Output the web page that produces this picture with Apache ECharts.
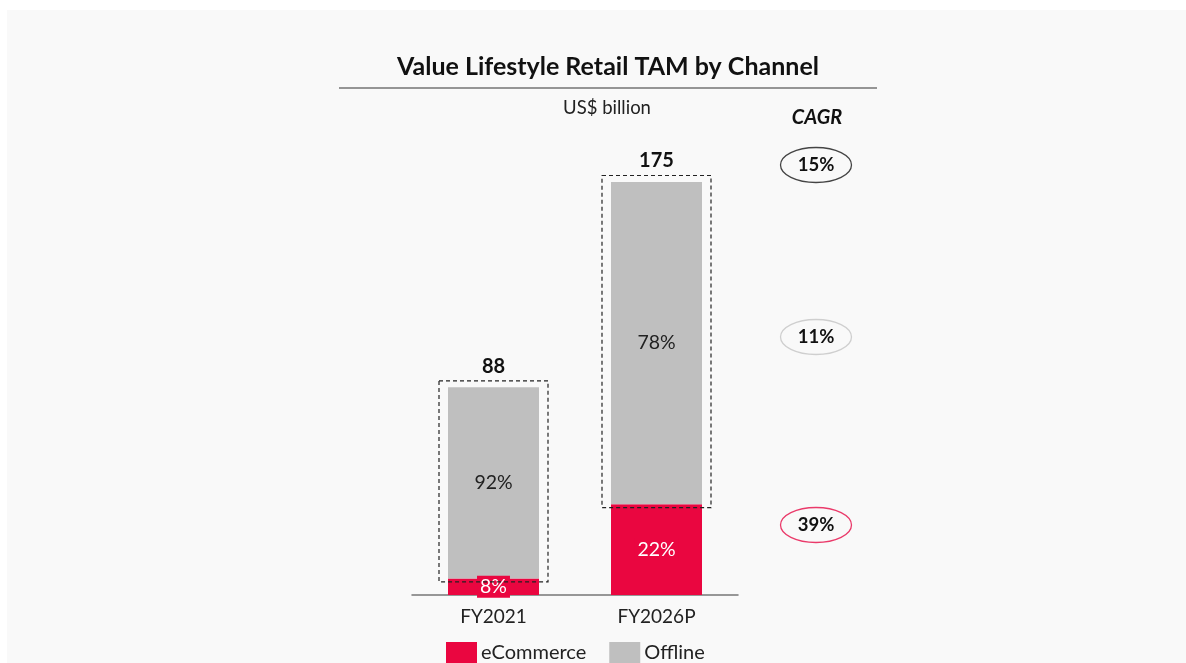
<!DOCTYPE html>
<html>
<head>
<meta charset="utf-8">
<title>Value Lifestyle Retail TAM by Channel</title>
<script src="https://cdn.jsdelivr.net/npm/echarts@6/dist/echarts.min.js"></script>
<style>
  html, body { margin: 0; padding: 0; background: #fff; }
  #chart { width: 1186px; height: 663px; }
</style>
</head>
<body>
<div id="chart"></div>
<script>
// data (US$ billion)
var categories = ['FY2021', 'FY2026P'];
var totals = [88, 175];
var ecommerce = [7.04, 38.5];
var offline = [80.96, 136.5];
var ecommerceShare = ['8%', '22%'];
var offlineShare = ['92%', '78%'];
var cagrLabels = ['15%', '11%', '39%'];

var RED = '#EA0640';
var GREY = '#BFBFBF';
var FONT = 'Lato, "Open Sans", sans-serif';

var chart = echarts.init(document.getElementById('chart'));

// one row per category: index, total, ecommerce (bottom of the dashed box)
var boxData = categories.map(function (c, i) {
  return [i, totals[i], ecommerce[i]];
});

function renderBox(params, api) {
  var top = api.coord([api.value(0), api.value(1)]);
  var bottom = api.coord([api.value(0), api.value(2)]);
  return {
    type: 'group',
    children: [
      {
        type: 'rect',
        shape: { x: top[0] - 54.5, y: top[1] - 6.5, width: 109, height: bottom[1] - top[1] + 10 },
        style: { fill: 'none', stroke: '#222', lineWidth: 1.2, lineDash: [4, 3] }
      },
      {
        type: 'text',
        x: top[0],
        y: top[1] - 21,
        style: {
          text: String(api.value(1)),
          fill: '#111',
          font: 'bold 20px ' + FONT,
          textAlign: 'center',
          textVerticalAlign: 'middle'
        }
      }
    ]
  };
}

// CAGR ellipses on the right
var cagrPos = [
  { y: 165, stroke: '#444' },
  { y: 337, stroke: '#cfcfcf' },
  { y: 525, stroke: '#EA3A6A' }
];
var graphics = [
  { type: 'rect', left: 7, top: 10, shape: { width: 1179, height: 653 }, style: { fill: '#f9f9f9' }, z: -10 },
  {
    type: 'text', x: 608, y: 67,
    style: { text: 'Value Lifestyle Retail TAM by Channel', font: 'bold 25px ' + FONT, fill: '#111', textAlign: 'center', textVerticalAlign: 'middle' }
  },
  { type: 'line', shape: { x1: 339, y1: 88, x2: 877, y2: 88 }, style: { stroke: '#333', lineWidth: 1.2 } },
  {
    type: 'text', x: 607, y: 108,
    style: { text: 'US$ billion', font: '18.5px ' + FONT, fill: '#222', textAlign: 'center', textVerticalAlign: 'middle' }
  },
  {
    type: 'text', x: 817, y: 118,
    style: { text: 'CAGR', font: 'italic bold 20px ' + FONT, fill: '#111', textAlign: 'center', textVerticalAlign: 'middle' }
  }
];
cagrLabels.forEach(function (t, i) {
  graphics.push({
    type: 'ellipse',
    shape: { cx: 816, cy: cagrPos[i].y, rx: 35.5, ry: 17.5 },
    style: { fill: 'none', stroke: cagrPos[i].stroke, lineWidth: 1.3 }
  });
  graphics.push({
    type: 'text', x: 816, y: cagrPos[i].y,
    style: { text: t, font: 'bold 18.5px ' + FONT, fill: '#111', textAlign: 'center', textVerticalAlign: 'middle' }
  });
});

var option = {
  animation: false,
  backgroundColor: '#fff',
  textStyle: { fontFamily: FONT },
  graphic: graphics,
  grid: { left: 412, width: 326, top: 123, bottom: 68 },
  legend: {
    data: ['eCommerce', 'Offline'],
    left: 446,
    top: 642,
    padding: 0,
    icon: 'rect',
    itemWidth: 31,
    itemHeight: 21,
    itemGap: 23,
    textStyle: { fontSize: 20, color: '#222', fontFamily: FONT, padding: [0, 0, 0, -1] }
  },
  xAxis: {
    type: 'category',
    data: categories,
    axisLine: { lineStyle: { color: '#777', width: 1.5 } },
    axisTick: { show: false },
    axisLabel: { fontSize: 19, color: '#222', margin: 12, fontFamily: FONT }
  },
  yAxis: {
    type: 'value',
    min: 0,
    max: 200,
    show: false,
    splitLine: { show: false }
  },
  series: [
    {
      name: 'eCommerce',
      type: 'bar',
      stack: 'tam',
      barWidth: 91,
      data: ecommerce,
      itemStyle: { color: RED },
      label: {
        show: true,
        position: 'inside',
        formatter: function (p) { return ecommerceShare[p.dataIndex]; },
        color: '#fff',
        fontSize: 19.5,
        fontFamily: FONT,
        backgroundColor: RED,
        padding: [1, 3]
      }
    },
    {
      name: 'Offline',
      type: 'bar',
      stack: 'tam',
      barWidth: 91,
      data: offline,
      itemStyle: { color: GREY },
      label: {
        show: true,
        position: 'inside',
        formatter: function (p) { return offlineShare[p.dataIndex]; },
        color: '#222',
        fontSize: 19.5,
        fontFamily: FONT
      }
    },
    {
      type: 'custom',
      renderItem: renderBox,
      data: boxData,
      z: 10,
      silent: true
    }
  ]
};

chart.setOption(option);
</script>
</body>
</html>
